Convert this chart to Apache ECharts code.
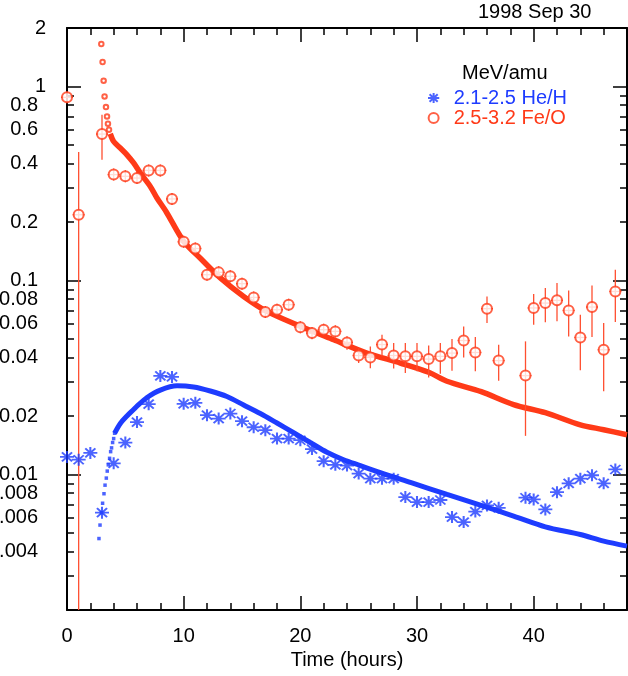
<!DOCTYPE html>
<html>
<head>
<meta charset="utf-8">
<script src="https://cdn.jsdelivr.net/npm/echarts@6/dist/echarts.min.js"></script>
<style>
html,body{margin:0;padding:0;background:#fff;}
#chart{width:628px;height:676px;}
</style>
</head>
<body>
<div id="chart"></div>
<script>
// ---- He/H data (blue asterisks) ----
const heT   = [0,1,2,3,4,5,6,7,8,9,10,11,12,13,14,15,16,17,18,19,20,21,22,23,24,25,26,27,28,29,30,31,32,33,34,35,36,37,39.3,40,41,42,43,44,45,46,47];
const heVal = [0.0123,0.0119,0.0129,0.00635,0.0114,0.0146,0.0186,0.023,0.0322,0.0318,0.0231,0.0234,0.0202,0.0194,0.0206,0.0188,0.0175,0.0169,0.0153,0.0153,0.015,0.0135,0.0117,0.0112,0.0111,0.0101,0.0095,0.0095,0.0095,0.00764,0.0072,0.0072,0.00738,0.00603,0.00568,0.00643,0.00692,0.00673,0.00758,0.00743,0.0066,0.0081,0.009,0.0095,0.0099,0.009,0.0106];

// ---- Fe/O data (red circles with error bars) ----
const feT   = [0,1,3,4,5,6,7,8,9,10,11,12,13,14,15,16,17,18,19,20,21,22,23,24,25,26,27,28,29,30,31,32,33,34,35,36,37,39.3,40,41,42,43,44,45,46,47];
const feVal = [0.878,0.218,0.568,0.351,0.344,0.337,0.369,0.369,0.263,0.158,0.146,0.107,0.110,0.105,0.0962,0.0817,0.0687,0.0706,0.075,0.0573,0.0535,0.0557,0.0546,0.0479,0.041,0.0401,0.0467,0.041,0.0406,0.0406,0.0393,0.0406,0.0422,0.049,0.0425,0.0715,0.0386,0.0323,0.0721,0.0764,0.0789,0.07,0.0508,0.0729,0.0439,0.0877];
const feLo  = [0.845,0.001,0.419,0.338,0.331,0.324,0.355,0.355,0.253,0.152,0.140,0.103,0.106,0.101,0.0925,0.0785,0.066,0.0678,0.072,0.0534,0.0497,0.0518,0.0508,0.0439,0.0375,0.0353,0.0406,0.0351,0.0333,0.034,0.0316,0.033,0.0342,0.0401,0.034,0.0603,0.0304,0.0158,0.0591,0.0608,0.0615,0.0514,0.0344,0.0511,0.0268,0.061];
const feHi  = [0.912,0.459,0.714,0.365,0.358,0.35,0.383,0.383,0.273,0.164,0.152,0.111,0.114,0.109,0.1,0.085,0.0715,0.0735,0.078,0.0615,0.0575,0.0598,0.0587,0.0516,0.0445,0.0457,0.0525,0.0476,0.0476,0.0476,0.0462,0.0476,0.0499,0.0579,0.0511,0.0827,0.0466,0.0485,0.0851,0.0914,0.097,0.0888,0.0666,0.094,0.0603,0.1135];

// ---- Fit curves ----
const feFitEarlyT = [2.94,3.05,3.14,3.22,3.34,3.43,3.51,3.60];
const feFitEarlyV = [1.654,1.336,1.07,0.888,0.783,0.70,0.642,0.598];
const feFitT = [3.71,4.0,4.57,5.14,5.71,6.28,7.14,7.71,8.5,10,11.43,13.14,15.14,17.14,20,22.86,25.7,28.57,31,32.57,35.5,38.28,41,44,46,48];
const feFitV = [0.57,0.52,0.481,0.444,0.403,0.358,0.305,0.266,0.226,0.159,0.13,0.103,0.0827,0.0692,0.058,0.0494,0.0422,0.0375,0.0336,0.0302,0.0267,0.0229,0.0208,0.018,0.017,0.016];

const heFitEarlyT = [2.74,2.83,2.97,3.05,3.17,3.26,3.37,3.45,3.54,3.65,3.74,3.82,3.91,4.0,4.08];
const heFitEarlyV = [0.00467,0.00548,0.00635,0.0071,0.00795,0.0088,0.00957,0.0104,0.0112,0.0121,0.0131,0.0137,0.0146,0.0153,0.0163];
const heFitT = [4.08,4.57,5.14,5.71,6.0,6.86,8.0,9.43,10.85,12.28,13.71,15.14,16.57,18,19.43,20.85,22.28,23.71,25.14,26.86,29.5,32.57,35.5,38.28,41,44,46,48];
const heFitV = [0.0163,0.0183,0.02,0.0216,0.0225,0.0249,0.0272,0.0286,0.0282,0.0269,0.0252,0.0228,0.0206,0.0184,0.0164,0.0146,0.013,0.0119,0.0111,0.0102,0.00906,0.00789,0.00692,0.0061,0.00537,0.0049,0.00453,0.00427];

// ---- Axes ----
const xRange = [0, 48];
const yRange = [0.002, 2];
const yLabelValues = [2,1,0.8,0.6,0.4,0.2,0.1,0.08,0.06,0.04,0.02,0.01,0.008,0.006,0.004];
const yMajorTicks = [0.01,0.1,1];
const yMinorTicks = [0.002,0.003,0.004,0.005,0.006,0.007,0.008,0.009,0.02,0.03,0.04,0.05,0.06,0.07,0.08,0.09,0.2,0.3,0.4,0.5,0.6,0.7,0.8,0.9,2];

const labels = {title:'1998 Sep 30', legendTitle:'MeV/amu', he:'2.1-2.5 He/H', fe:'2.5-3.2 Fe/O', xName:'Time (hours)'};

const BLUE = '#1e3cff', RED = '#ff3a18', ERR = '#ff4f30';
const FONT = '"Liberation Sans", Arial, sans-serif';

const zip = (a, b) => a.map((v, i) => [v, b[i]]);

const chart = echarts.init(document.getElementById('chart'), null, {renderer:'canvas'});

const lineStyleAxis = {color:'#000', width:2};
function yAxisBase(pos, ticks, len, showLine, showLabel) {
  return {
    type:'log', logBase:10, min:yRange[0], max:yRange[1], position:pos,
    axisLine:{show:showLine, lineStyle:lineStyleAxis},
    axisTick:{show:true, inside:true, length:len, customValues:ticks, lineStyle:{color:'#000', width:1.5}},
    axisLabel: showLabel ? {
      show:true, customValues:yLabelValues, margin:21, color:'#000', fontSize:20, fontFamily:FONT,
      formatter: v => (v >= 1 ? String(v) : '{p|' + String(v) + '}'),
      rich:{p:{padding:[0,8,0,0], fontSize:20, fontFamily:FONT, color:'#000'}}
    } : {show:false},
    splitLine:{show:false}, minorTick:{show:false}, minorSplitLine:{show:false}
  };
}
function xAxisBase(pos, showLabel) {
  return {
    type:'value', min:xRange[0], max:xRange[1], interval:10, position:pos,
    axisLine:{show:true, onZero:false, lineStyle:lineStyleAxis},
    axisTick:{show:true, inside:true, length:14, lineStyle:{color:'#000', width:1.5}},
    minorTick:{show:true, splitNumber:5, length:7, lineStyle:{color:'#000', width:1.5}},
    axisLabel: showLabel ? {show:true, showMaxLabel:false, margin:16, color:'#000', fontSize:20, fontFamily:FONT} : {show:false},
    splitLine:{show:false},
    name: showLabel ? labels.xName : '', nameLocation:'middle', nameGap:40,
    nameTextStyle:{color:'#000', fontSize:20, fontFamily:FONT}
  };
}

const asterisk = 'path://M0,-8L0,8M-9,0L9,0M-6.5,-6L6.5,6M-6.5,6L6.5,-6';

const option = {
  animation:false,
  backgroundColor:'#fff',
  grid:{left:67, right:1, top:28, bottom:66, containLabel:false, outerBoundsMode:'none'},
  title:[
    {text:labels.title, left:478, top:2, padding:0, textStyle:{fontSize:20, fontWeight:'normal', fontFamily:FONT, color:'#000', lineHeight:20}},
    {text:labels.legendTitle, left:462, top:63, padding:0, textStyle:{fontSize:20, fontWeight:'normal', fontFamily:FONT, color:'#000', lineHeight:20}}
  ],
  legend:{
    orient:'vertical', left:422, top:83, padding:5, itemWidth:30, itemHeight:10, itemGap:0,
    selectedMode:false,
    textStyle:{fontSize:20, fontFamily:FONT, lineHeight:20},
    data:[
      {name:labels.he, textStyle:{color:BLUE}},
      {name:labels.fe, textStyle:{color:RED}}
    ]
  },
  xAxis:[xAxisBase('bottom', true), xAxisBase('top', false)],
  yAxis:[
    yAxisBase('left', yMajorTicks, 14, true, true),
    yAxisBase('left', yMinorTicks, 7, false, false),
    yAxisBase('right', yMajorTicks, 14, true, false),
    yAxisBase('right', yMinorTicks, 7, false, false)
  ],
  series:[
    {type:'line', name:'feFit', data:zip(feFitT, feFitV), showSymbol:false, smooth:0.3,
     lineStyle:{color:RED, width:5.5}, z:2, silent:true},
    {type:'scatter', name:'feFitEarly', data:zip(feFitEarlyT, feFitEarlyV), symbol:'emptyCircle', symbolSize:4.5,
     itemStyle:{color:RED, borderColor:RED, borderWidth:1}, z:2, silent:true},
    {type:'line', name:'heFit', data:zip(heFitT, heFitV), showSymbol:false, smooth:0.3,
     lineStyle:{color:BLUE, width:5}, z:2, silent:true},
    {type:'scatter', name:'heFitEarly', data:zip(heFitEarlyT, heFitEarlyV), symbol:'rect', symbolSize:3.5,
     itemStyle:{color:BLUE}, z:2, silent:true},
    {type:'custom', name:'feErr', data:feT.map((t,i)=>[t, feLo[i], feHi[i], feVal[i]]),
     encode:{x:0, y:3}, z:3, silent:true,
     renderItem:function(params, api){
       const t = api.value(0), lo = api.value(1), hi = api.value(2), v = api.value(3);
       const c = api.coord([t, v]);
       const pl = api.coord([t, lo]);
       const ph = api.coord([t, hi]);
       const cs = params.coordSys;
       const bottom = cs.y + cs.height, top = cs.y;
       const y1 = Math.min(Math.max(pl[1], c[1] + 6), bottom);
       const y2 = Math.max(Math.min(ph[1], c[1] - 6), top);
       return {type:'group', children:[
         {type:'line', shape:{x1:c[0], y1:y1, x2:c[0], y2:y2}, style:{stroke:ERR, lineWidth:1.3}},
         {type:'line', shape:{x1:c[0]-6, y1:c[1], x2:c[0]+6, y2:c[1]}, style:{stroke:ERR, lineWidth:1.3}}
       ]};
     }},
    {type:'scatter', name:labels.fe, data:zip(feT, feVal), symbol:'emptyCircle', symbolSize:10,
     itemStyle:{color:RED, borderColor:RED, borderWidth:1.5}, z:4},
    {type:'scatter', name:labels.he, data:zip(heT, heVal), symbol:asterisk, symbolSize:[14,12],
     itemStyle:{color:BLUE, borderColor:BLUE, borderWidth:1.9}, z:4}
  ]
};
chart.setOption(option);
</script>
</body>
</html>
